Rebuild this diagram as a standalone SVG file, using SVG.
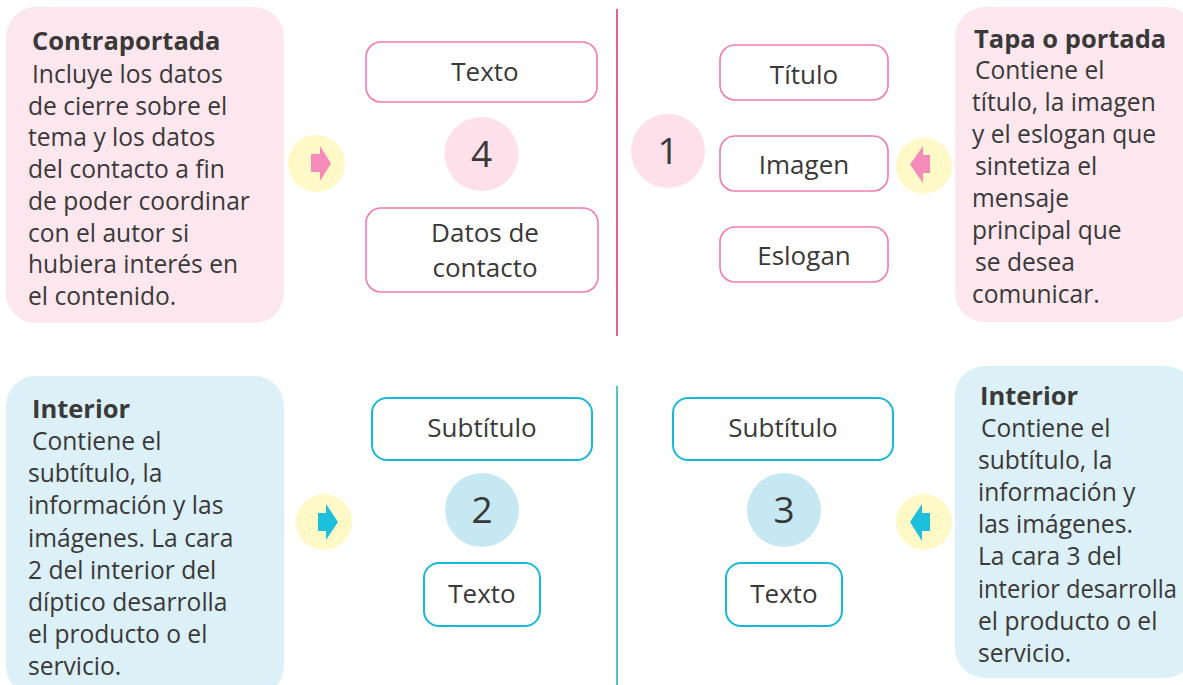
<svg xmlns="http://www.w3.org/2000/svg" width="1183" height="685" viewBox="0 0 1183 685">
<style>
text{font-family:"Open Sans","Liberation Sans",sans-serif;fill:#3b3838;}
.body{font-size:24.6px;}
.title{font-size:25.5px;font-weight:bold;}
.lbl{font-size:26px;text-anchor:middle;}
.num{font-size:37px;text-anchor:middle;}
.pinkbox{fill:#fde7ef;}
.bluebox{fill:#dcf0f7;}
.pnode{fill:#fff;stroke:#f27ab0;stroke-width:1.6;}
.bnode{fill:#fff;stroke:#17b9d8;stroke-width:2;}
.pcirc{fill:#fde0ea;}
.bcirc{fill:#c6e8f2;}
.ycirc{fill:#fff9c8;}
.parrow{fill:#f48bbb;}
.barrow{fill:#1cc0dc;}
</style>
<rect width="1183" height="685" fill="#ffffff"/>

<g id="contraportada">
<rect class="pinkbox" x="6" y="7" width="278" height="316" rx="30"/>
<text class="title" x="32" y="50">Contraportada</text>
<text class="body">
<tspan x="32" y="83">Incluye los datos</tspan>
<tspan x="28" y="114.7">de cierre sobre el</tspan>
<tspan x="28" y="146.4">tema y los datos</tspan>
<tspan x="28" y="178.1">del contacto a fin</tspan>
<tspan x="28" y="209.8">de poder coordinar</tspan>
<tspan x="28" y="241.5">con el autor si</tspan>
<tspan x="28" y="273.2">hubiera interés en</tspan>
<tspan x="28" y="304.9">el contenido.</tspan>
</text>
</g>

<g id="portada">
<rect class="pinkbox" x="955" y="7" width="240" height="315" rx="30"/>
<text class="title" x="974" y="48">Tapa o portada</text>
<text class="body">
<tspan x="975" y="79">Contiene el</tspan>
<tspan x="972" y="111">título, la imagen</tspan>
<tspan x="972" y="143">y el eslogan que</tspan>
<tspan x="975" y="175">sintetiza el</tspan>
<tspan x="972" y="207">mensaje</tspan>
<tspan x="972" y="239">principal que</tspan>
<tspan x="975" y="271">se desea</tspan>
<tspan x="972" y="303">comunicar.</tspan>
</text>
</g>

<g id="interior2">
<rect class="bluebox" x="6" y="376" width="278" height="320" rx="30"/>
<text class="title" x="32" y="418">Interior</text>
<text class="body">
<tspan x="32" y="450">Contiene el</tspan>
<tspan x="28" y="482.2">subtítulo, la</tspan>
<tspan x="28" y="514.4">información y las</tspan>
<tspan x="28" y="546.6">imágenes. La cara</tspan>
<tspan x="28" y="578.8">2 del interior del</tspan>
<tspan x="28" y="611">díptico desarrolla</tspan>
<tspan x="28" y="643.2">el producto o el</tspan>
<tspan x="28" y="675.4">servicio.</tspan>
</text>
</g>

<g id="interior3">
<rect class="bluebox" x="955" y="366" width="240" height="312" rx="30"/>
<text class="title" x="980" y="405">Interior</text>
<text class="body">
<tspan x="981" y="437">Contiene el</tspan>
<tspan x="978" y="469.1">subtítulo, la</tspan>
<tspan x="978" y="501.2">información y</tspan>
<tspan x="978" y="533.3">las imágenes.</tspan>
<tspan x="978" y="565.4">La cara 3 del</tspan>
<tspan x="978" y="597.5" textLength="199" lengthAdjust="spacingAndGlyphs">interior desarrolla</tspan>
<tspan x="978" y="629.6">el producto o el</tspan>
<tspan x="978" y="661.7">servicio.</tspan>
</text>
</g>

<g id="connectors">
<line x1="617" y1="9" x2="617" y2="336" stroke="#e2609a" stroke-width="2"/>
<line x1="617" y1="386" x2="617" y2="685" stroke="#4fc9c4" stroke-width="2"/>
<g id="arrow-tl">
<circle class="ycirc" cx="316.5" cy="163.5" r="28.5"/>
<polygon class="parrow" points="311,154 320,154 320,146 331,163.5 320,181 320,172 311,172"/>
</g>
<g id="arrow-tr">
<circle class="ycirc" cx="924" cy="166" r="28"/>
<polygon class="parrow" points="930,155 923,155 923,146 910,164.5 923,183 923,173 930,173"/>
</g>
<g id="arrow-bl">
<circle class="ycirc" cx="324" cy="522" r="28"/>
<polygon class="barrow" points="318,513 326,513 326,504 338,522 326,540 326,531 318,531"/>
</g>
<g id="arrow-br">
<circle class="ycirc" cx="924" cy="522" r="28"/>
<polygon class="barrow" points="930,513 922,513 922,504 910,522 922,541 922,531 930,531"/>
</g>
</g>

<g id="p4-texto">
<rect class="pnode" x="366" y="42" width="231" height="60" rx="15"/>
<text class="lbl" x="485" y="81">Texto</text>
</g>
<g id="p4-num">
<circle class="pcirc" cx="481.5" cy="154" r="37"/>
<text class="num" x="481.5" y="167">4</text>
</g>
<g id="p4-datos">
<rect class="pnode" x="366" y="208" width="232" height="84" rx="15"/>
<text class="lbl" x="485" y="242">Datos de</text>
<text class="lbl" x="485" y="277">contacto</text>
</g>

<g id="p1-num">
<circle class="pcirc" cx="668" cy="151" r="37"/>
<text class="num" x="668" y="164">1</text>
</g>
<g id="p1-titulo">
<rect class="pnode" x="720" y="45" width="168" height="55" rx="15"/>
<text class="lbl" x="804" y="84">Título</text>
</g>
<g id="p1-imagen">
<rect class="pnode" x="720" y="136" width="168" height="55" rx="15"/>
<text class="lbl" x="804" y="174">Imagen</text>
</g>
<g id="p1-eslogan">
<rect class="pnode" x="720" y="227" width="168" height="55" rx="15"/>
<text class="lbl" x="804" y="265">Eslogan</text>
</g>

<g id="p2-subtitulo">
<rect class="bnode" x="372" y="398" width="220" height="62" rx="15"/>
<text class="lbl" x="482" y="437">Subtítulo</text>
</g>
<g id="p2-num">
<circle class="bcirc" cx="482" cy="510" r="37"/>
<text class="num" x="482" y="523">2</text>
</g>
<g id="p2-texto">
<rect class="bnode" x="424" y="563" width="116" height="63" rx="15"/>
<text class="lbl" x="482" y="603">Texto</text>
</g>

<g id="p3-subtitulo">
<rect class="bnode" x="673" y="398" width="220" height="62" rx="15"/>
<text class="lbl" x="783" y="437">Subtítulo</text>
</g>
<g id="p3-num">
<circle class="bcirc" cx="784" cy="510" r="37"/>
<text class="num" x="784" y="523">3</text>
</g>
<g id="p3-texto">
<rect class="bnode" x="726" y="563" width="116" height="63" rx="15"/>
<text class="lbl" x="784" y="603">Texto</text>
</g>
</svg>
